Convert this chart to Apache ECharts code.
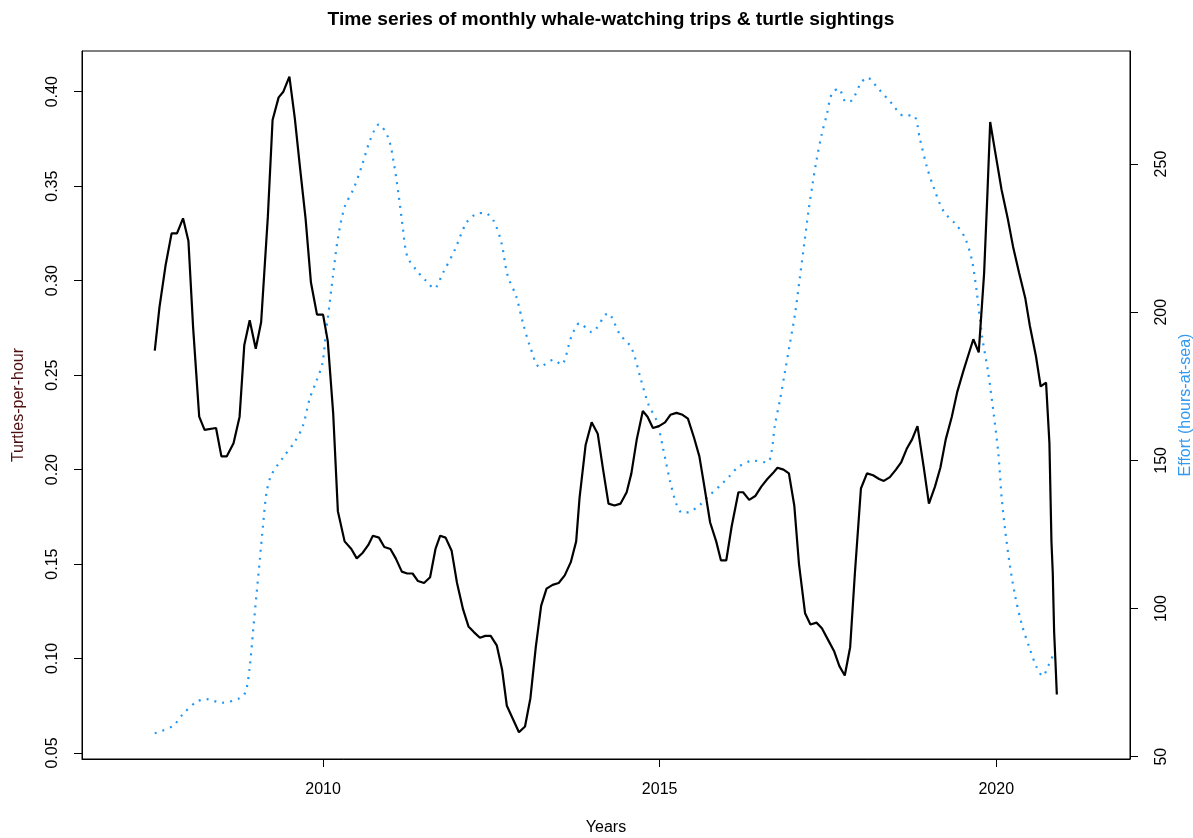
<!DOCTYPE html>
<html>
<head>
<meta charset="utf-8">
<title>Whale-watching trips & turtle sightings</title>
<script src="https://cdn.jsdelivr.net/npm/echarts@6/dist/echarts.min.js"></script>
<style>
  html, body { margin: 0; padding: 0; background: #ffffff; }
  #chart { width: 1193px; height: 838px; }
</style>
</head>
<body>
<div id="chart"></div>
<script>
// Turtle sighting rate (turtles per hour), smoothed monthly series
const turtleYears = [
  2007.50, 2007.57, 2007.66, 2007.75, 2007.83, 2007.92, 2008.00, 2008.07, 2008.16, 2008.24,
  2008.41, 2008.49, 2008.57, 2008.67, 2008.76, 2008.83, 2008.91, 2009.00, 2009.08, 2009.18,
  2009.25, 2009.34, 2009.41, 2009.50, 2009.58, 2009.66, 2009.74, 2009.82, 2009.91, 2010.00,
  2010.07, 2010.15, 2010.22, 2010.32, 2010.42, 2010.50, 2010.59, 2010.67, 2010.74, 2010.83,
  2010.91, 2011.00, 2011.08, 2011.17, 2011.25, 2011.33, 2011.41, 2011.50, 2011.59, 2011.67,
  2011.74, 2011.82, 2011.91, 2011.99, 2012.08, 2012.16, 2012.24, 2012.33, 2012.41, 2012.49,
  2012.58, 2012.66, 2012.73, 2012.82, 2012.91, 2013.00, 2013.08, 2013.16, 2013.24, 2013.32,
  2013.41, 2013.50, 2013.59, 2013.68, 2013.76, 2013.81, 2013.90, 2013.99, 2014.08, 2014.16,
  2014.24, 2014.33, 2014.42, 2014.51, 2014.58, 2014.66, 2014.75, 2014.82, 2014.90, 2014.99,
  2015.08, 2015.16, 2015.25, 2015.34, 2015.42, 2015.51, 2015.59, 2015.66, 2015.75, 2015.84,
  2015.91, 2015.99, 2016.07, 2016.17, 2016.24, 2016.33, 2016.42, 2016.51, 2016.60, 2016.68,
  2016.75, 2016.84, 2016.92, 2017.00, 2017.07, 2017.16, 2017.24, 2017.33, 2017.41, 2017.50,
  2017.59, 2017.67, 2017.75, 2017.83, 2017.90, 2017.99, 2018.08, 2018.17, 2018.26, 2018.33,
  2018.42, 2018.51, 2018.59, 2018.67, 2018.75, 2018.83, 2018.92, 2019.00, 2019.09, 2019.17,
  2019.25, 2019.34, 2019.42, 2019.51, 2019.58, 2019.66, 2019.74, 2019.82, 2019.87, 2019.91,
  2019.99, 2020.08, 2020.17, 2020.25, 2020.34, 2020.43, 2020.50, 2020.59, 2020.66, 2020.74,
  2020.79, 2020.82, 2020.84, 2020.85, 2020.86, 2020.88, 2020.90
];
const turtleRate = [
  0.263, 0.286, 0.308, 0.325, 0.325, 0.333, 0.321, 0.275, 0.228, 0.221,
  0.222, 0.207, 0.207, 0.214, 0.228, 0.266, 0.279, 0.264, 0.278, 0.334,
  0.385, 0.397, 0.400, 0.408, 0.386, 0.359, 0.333, 0.299, 0.282, 0.282,
  0.268, 0.230, 0.178, 0.162, 0.158, 0.153, 0.156, 0.160, 0.165, 0.164,
  0.159, 0.158, 0.153, 0.146, 0.145, 0.145, 0.141, 0.140, 0.143, 0.158,
  0.165, 0.164, 0.157, 0.140, 0.126, 0.117, 0.114, 0.111, 0.112, 0.112,
  0.107, 0.094, 0.075, 0.068, 0.061, 0.064, 0.079, 0.106, 0.128, 0.137,
  0.139, 0.140, 0.144, 0.151, 0.162, 0.185, 0.213, 0.225, 0.219, 0.200,
  0.182, 0.181, 0.182, 0.188, 0.198, 0.216, 0.231, 0.228, 0.222, 0.223,
  0.225, 0.229, 0.230, 0.229, 0.227, 0.217, 0.207, 0.192, 0.172, 0.162,
  0.152, 0.152, 0.170, 0.188, 0.188, 0.184, 0.186, 0.191, 0.195, 0.198,
  0.201, 0.200, 0.198, 0.181, 0.150, 0.124, 0.118, 0.119, 0.116, 0.110,
  0.104, 0.096, 0.091, 0.106, 0.145, 0.190, 0.198, 0.197, 0.195, 0.194,
  0.196, 0.200, 0.204, 0.211, 0.216, 0.223, 0.202, 0.182, 0.191, 0.201,
  0.216, 0.228, 0.241, 0.252, 0.260, 0.269, 0.262, 0.304, 0.347, 0.384,
  0.367, 0.348, 0.333, 0.318, 0.304, 0.291, 0.276, 0.260, 0.244, 0.246,
  0.214, 0.162, 0.145, 0.129, 0.114, 0.098, 0.081
];

// Observation effort (hours at sea), smoothed
const effortYears = [
  2007.50, 2007.77, 2007.92, 2008.12, 2008.27, 2008.49, 2008.76, 2008.85, 2008.91, 2008.96,
  2009.01, 2009.06, 2009.11, 2009.16, 2009.23, 2009.41, 2009.58, 2009.70, 2009.80, 2009.90,
  2009.99, 2010.05, 2010.07, 2010.15, 2010.22, 2010.32, 2010.45, 2010.57, 2010.70, 2010.83,
  2010.97, 2011.05, 2011.12, 2011.18, 2011.25, 2011.39, 2011.53, 2011.65, 2011.78, 2011.96,
  2012.13, 2012.28, 2012.40, 2012.53, 2012.65, 2012.74, 2012.87, 2012.97, 2013.07, 2013.22,
  2013.42, 2013.54, 2013.69, 2013.81, 2013.99, 2014.23, 2014.41, 2014.58, 2014.71, 2014.83,
  2014.96, 2015.05, 2015.15, 2015.25, 2015.34, 2015.45, 2015.59, 2015.74, 2015.89, 2016.04,
  2016.17, 2016.39, 2016.60, 2016.66, 2016.71, 2016.79, 2016.86, 2016.93, 2017.01, 2017.08,
  2017.15, 2017.21, 2017.27, 2017.33, 2017.41, 2017.48, 2017.56, 2017.66, 2017.77, 2017.86,
  2017.98, 2018.08, 2018.25, 2018.45, 2018.62, 2018.77, 2018.87, 2018.97, 2019.08, 2019.22,
  2019.41, 2019.54, 2019.64, 2019.71, 2019.79, 2019.88, 2019.96, 2020.03, 2020.08, 2020.13,
  2020.20, 2020.28, 2020.38, 2020.50, 2020.60, 2020.69, 2020.78, 2020.84
];
const effortHours = [
  57.9, 60.4, 64.4, 68.5, 69.4, 68.2, 69.7, 71.9, 80.2, 92.3,
  104.4, 116.4, 128.5, 139.0, 145.0, 151.1, 156.3, 161.6, 170.7, 176.7,
  182.7, 194.8, 197.8, 212.9, 224.9, 235.5, 241.5, 249.0, 258.1, 263.4,
  258.8, 250.5, 240.0, 229.4, 218.9, 214.1, 210.6, 208.0, 213.2, 221.2,
  230.2, 233.2, 233.5, 231.0, 223.4, 212.5, 205.3, 196.3, 188.8, 181.5,
  183.9, 182.3, 191.8, 196.3, 193.3, 199.6, 192.5, 188.0, 178.2, 169.1,
  163.1, 154.1, 143.5, 135.2, 132.2, 132.7, 134.8, 138.2, 141.3, 144.7,
  147.8, 149.9, 149.3, 152.6, 161.6, 170.7, 179.7, 188.8, 199.3, 211.3,
  223.4, 234.0, 243.0, 251.3, 260.3, 266.4, 273.9, 275.4, 270.9, 271.6,
  276.9, 279.2, 275.4, 270.4, 266.4, 266.4, 258.1, 249.0, 241.5, 234.0,
  229.4, 224.9, 217.4, 206.9, 191.8, 179.7, 166.1, 152.6, 137.5, 126.9,
  114.9, 104.4, 94.6, 86.3, 80.2, 77.2, 81.0, 84.0
];

// Tick positions for each axis
const yearTicks = [2010, 2015, 2020];
const rateTicks = [0.05, 0.10, 0.15, 0.20, 0.25, 0.30, 0.35, 0.40];
const effortTicks = [50, 100, 150, 200, 250];

const FONT = "'Liberation Sans', Arial, Helvetica, sans-serif";

const turtleData = turtleYears.map((y, i) => [y, turtleRate[i]]);
const effortData = effortYears.map((y, i) => [y, effortHours[i]]);

const chart = echarts.init(document.getElementById('chart'), null, { renderer: 'canvas' });

chart.setOption({
  animation: false,
  backgroundColor: '#ffffff',
  textStyle: { fontFamily: FONT },
  title: {
    text: 'Time series of monthly whale-watching trips & turtle sightings',
    left: 606,
    top: 5,
    textAlign: 'center',
    textStyle: { fontFamily: FONT, fontSize: 19.2, fontWeight: 'bold', color: '#000000' }
  },
  grid: {
    left: 82, top: 51, width: 1048, height: 708,
    show: true, borderColor: '#000000', borderWidth: 1, backgroundColor: 'transparent',
    containLabel: false,
    outerBoundsMode: 'none'
  },
  xAxis: {
    type: 'value',
    min: 2006.419,
    max: 2021.987,
    name: 'Years',
    nameLocation: 'middle',
    nameGap: 61,
    nameTextStyle: { fontFamily: FONT, fontSize: 16, color: '#000000' },
    axisLine: { show: true, lineStyle: { color: '#000000', width: 1 } },
    axisTick: { show: true, customValues: yearTicks, length: 8, lineStyle: { color: '#000000' } },
    axisLabel: {
      customValues: yearTicks, fontSize: 16, color: '#000000', margin: 23, fontFamily: FONT,
      formatter: v => String(Math.round(v))
    },
    splitLine: { show: false }
  },
  yAxis: [
    {
      type: 'value',
      position: 'left',
      min: 0.04682,
      max: 0.42155,
      name: 'Turtles-per-hour',
      nameLocation: 'middle',
      nameRotate: 90,
      nameGap: 55,
      nameTextStyle: { fontFamily: FONT, fontSize: 16, color: '#4d0f0f' },
      axisLine: { show: true, lineStyle: { color: '#000000', width: 1 } },
      axisTick: { show: true, customValues: rateTicks, length: 8, lineStyle: { color: '#000000' } },
      axisLabel: {
        customValues: rateTicks, rotate: 90, fontSize: 16, color: '#000000', margin: 21,
        fontFamily: FONT, formatter: v => v.toFixed(2)
      },
      splitLine: { show: false }
    },
    {
      type: 'value',
      position: 'right',
      min: 49.22,
      max: 288.15,
      name: 'Effort (hours-at-sea)',
      nameLocation: 'middle',
      nameRotate: 90,
      nameGap: 43,
      nameTextStyle: { fontFamily: FONT, fontSize: 16, color: '#3399ee' },
      axisLine: { show: true, lineStyle: { color: '#000000', width: 1 } },
      axisTick: { show: true, customValues: effortTicks, length: 8, lineStyle: { color: '#000000' } },
      axisLabel: {
        customValues: effortTicks, rotate: 90, fontSize: 16, color: '#000000', margin: 24,
        fontFamily: FONT, formatter: v => String(Math.round(v))
      },
      splitLine: { show: false }
    }
  ],
  series: [
    {
      name: 'Turtles-per-hour',
      type: 'line',
      data: turtleData,
      xAxisIndex: 0,
      yAxisIndex: 0,
      showSymbol: false,
      symbol: 'none',
      lineStyle: { color: '#000000', width: 2.2 },
      z: 3
    },
    {
      name: 'Effort (hours-at-sea)',
      type: 'line',
      data: effortData,
      xAxisIndex: 0,
      yAxisIndex: 1,
      showSymbol: false,
      symbol: 'none',
      smooth: 0.3,
      lineStyle: { color: '#2196f3', width: 2.2, type: [2, 6] },
      z: 2
    }
  ]
});
</script>
</body>
</html>
